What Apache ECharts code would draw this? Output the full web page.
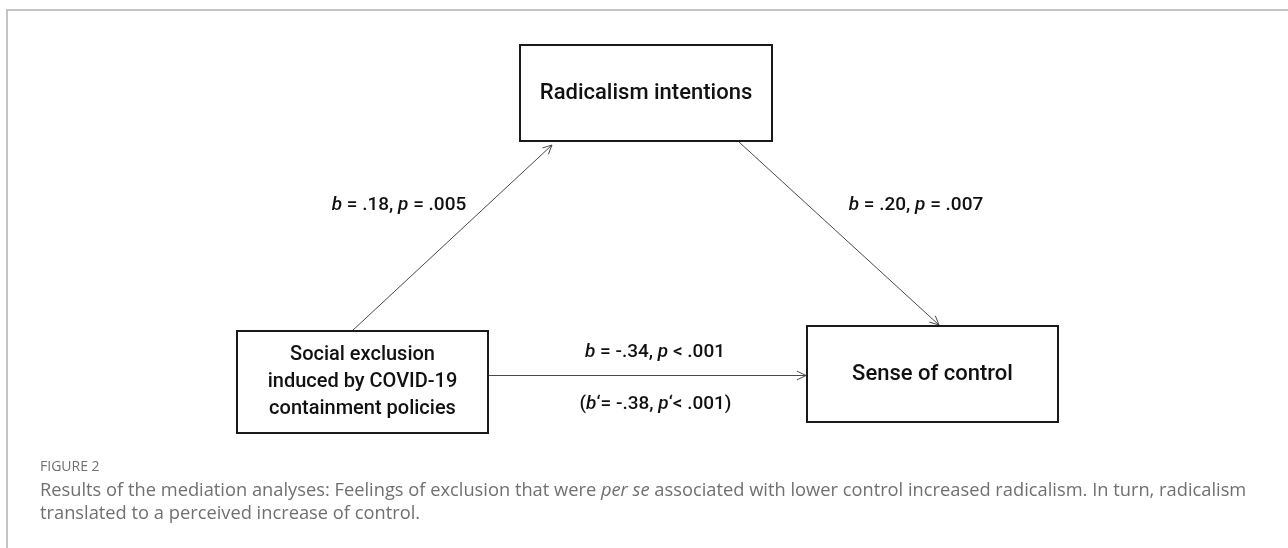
<!DOCTYPE html>
<html>
<head>
<meta charset="utf-8">
<script src="https://cdn.jsdelivr.net/npm/echarts@6/dist/echarts.min.js"></script>
<style>
html,body{margin:0;padding:0;background:#fff;}
#chart{width:1288px;height:548px;}
</style>
</head>
<body>
<div id="chart"></div>
<script>
// ---- Data (diagram units = axis units) ----
const boxNames = ['Radicalism intentions', 'Social exclusion\ninduced by COVID-19\ncontainment policies', 'Sense of control'];
const boxX = [646, 362.5, 932.5];
const boxY = [93, 382, 374];

const pathFrom = [[352, 331], [739, 142], [488, 375.5]];
const pathTo = [[552, 145], [939, 325], [806, 375.5]];

const pathLabels = ['{i|b} = .18, {i|p} = .005', '{i|b} = .20, {i|p} = .007', '{i|b} = -.34, {i|p} < .001', '({i|b}\u2018= -.38, {i|p}\u2018< .001)'];
const labelX = [399, 916, 655, 655.5];
const labelY = [205, 205, 352, 404];

const figureLabel = 'FIGURE 2';
const captionLines = [
  'Results of the mediation analyses: Feelings of exclusion that were {i|per se} associated with lower control increased radicalism. In turn, radicalism',
  'translated to a perceived increase of control.'
];

// ---- Layout / style ----
const boxSizes = [[252, 96], [251, 102], [251, 96]];
const boxFontSizes = [22, 20, 22];
const diagramFont = 'Roboto, "DejaVu Sans", sans-serif';
const captionFont = '"Open Sans", Lato, sans-serif';
const captionColor = '#707070';
const captionSize = 18.3;

const chart = echarts.init(document.getElementById('chart'), null, {renderer: 'canvas'});

const option = {
  animation: false,
  backgroundColor: '#fff',
  grid: {left: 0, right: 0, top: 0, bottom: 0},
  xAxis: {type: 'value', min: 0, max: 1288, show: false},
  yAxis: {type: 'value', min: 0, max: 548, inverse: true, show: false},
  series: [
    {
      type: 'custom',
      coordinateSystem: 'cartesian2d',
      silent: true,
      data: pathFrom.map((f, i) => [f[0], f[1], pathTo[i][0], pathTo[i][1]]),
      renderItem: function (params, api) {
        const a = api.coord([api.value(0), api.value(1)]);
        const b = api.coord([api.value(2), api.value(3)]);
        const ang = Math.atan2(b[1] - a[1], b[0] - a[0]);
        const L = 10, spread = Math.PI / 7;
        const h1 = [b[0] - L * Math.cos(ang - spread), b[1] - L * Math.sin(ang - spread)];
        const h2 = [b[0] - L * Math.cos(ang + spread), b[1] - L * Math.sin(ang + spread)];
        const st = {stroke: '#4a4a4a', lineWidth: 1, fill: null};
        return {
          type: 'group',
          children: [
            {type: 'line', shape: {x1: a[0], y1: a[1], x2: b[0], y2: b[1]}, style: st},
            {type: 'polyline', shape: {points: [h1, b, h2]}, style: st}
          ]
        };
      }
    },
    {
      type: 'custom',
      coordinateSystem: 'cartesian2d',
      silent: true,
      data: boxNames.map((n, i) => [boxX[i], boxY[i], i]),
      renderItem: function (params, api) {
        const c = api.coord([api.value(0), api.value(1)]);
        const idx = api.value(2);
        const s = api.size(boxSizes[idx]);
        const w = s[0], h = s[1];
        return {
          type: 'group',
          children: [
            {type: 'rect', shape: {x: Math.round(c[0] - w / 2), y: Math.round(c[1] - h / 2), width: Math.round(w), height: Math.round(h)},
             style: {fill: '#fff', stroke: '#1a1a1a', lineWidth: 2}},
            {type: 'text', style: {text: boxNames[idx], x: c[0], y: c[1], align: 'center', verticalAlign: 'middle',
              fontFamily: diagramFont, fontWeight: 500, fontSize: boxFontSizes[idx], fill: '#111', lineHeight: 27}}
          ]
        };
      }
    },
    {
      type: 'custom',
      coordinateSystem: 'cartesian2d',
      silent: true,
      data: pathLabels.map((t, i) => [labelX[i], labelY[i], i]),
      renderItem: function (params, api) {
        const c = api.coord([api.value(0), api.value(1)]);
        const idx = api.value(2);
        return {
          type: 'text',
          style: {text: pathLabels[idx], x: c[0], y: c[1], align: 'center', verticalAlign: 'middle',
            fontFamily: diagramFont, fontWeight: 500, fontSize: 19, fill: '#111',
            rich: {i: {fontStyle: 'italic', fontWeight: 500, fontFamily: diagramFont, fontSize: 19, fill: '#111'}}}
        };
      }
    }
  ],
  graphic: [
    {type: 'line', silent: true, shape: {x1: 7, y1: 10, x2: 1288, y2: 10}, style: {stroke: '#c4c4c4', lineWidth: 2}},
    {type: 'line', silent: true, shape: {x1: 7, y1: 9, x2: 7, y2: 548}, style: {stroke: '#c4c4c4', lineWidth: 2}},
    {type: 'text', left: 40, top: 460, style: {text: figureLabel, fontFamily: captionFont, fontSize: 14, fill: captionColor}},
    {type: 'text', left: 40, top: 482, style: {text: captionLines[0], fontFamily: captionFont, fontSize: captionSize, fill: captionColor,
      rich: {i: {fontStyle: 'italic', fontFamily: captionFont, fontSize: captionSize, fill: captionColor}}}},
    {type: 'text', left: 40, top: 505, style: {text: captionLines[1], fontFamily: captionFont, fontSize: captionSize, fill: captionColor}}
  ]
};
chart.setOption(option);
</script>
</body>
</html>
